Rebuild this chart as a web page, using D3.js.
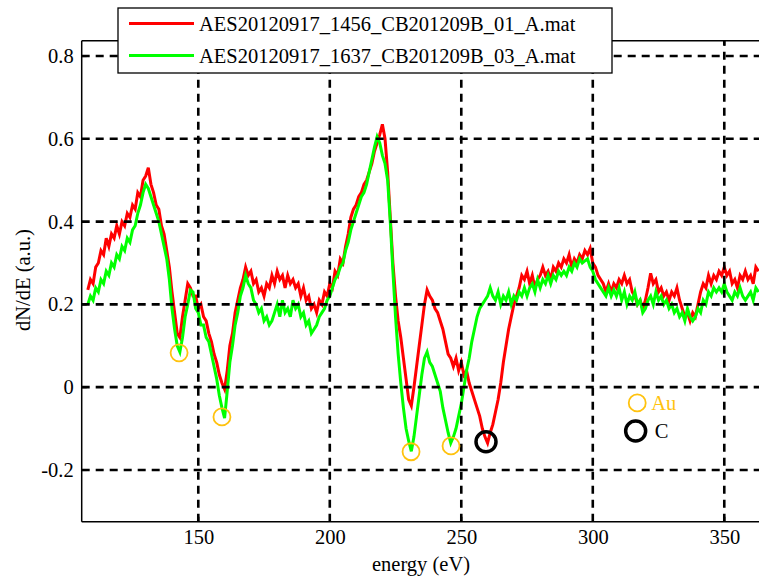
<!DOCTYPE html>
<html>
<head>
<meta charset="utf-8">
<script src="https://cdn.jsdelivr.net/npm/d3@7"></script>
<style>
  html, body { margin: 0; padding: 0; background: #fff; }
  svg { display: block; }
</style>
</head>
<body>
<svg id="chart" width="759" height="577"></svg>
<script>
// ---- data ----
const energyStart = 108;   // eV, first sample
const energyStep = 1;      // eV between samples

const seriesRed = [
0.235,0.26,0.25,0.29,0.30,0.33,0.32,0.36,0.34,0.37,
0.36,0.39,0.37,0.40,0.39,0.42,0.41,0.44,0.43,0.47,
0.46,0.50,0.51,0.53,0.49,0.47,0.44,0.43,0.39,0.37,
0.33,0.29,0.23,0.18,0.13,0.12,0.17,0.21,0.25,0.24,
0.22,0.22,0.19,0.20,0.17,0.16,0.13,0.11,0.08,0.06,
0.03,0.01,-0.005,0.04,0.10,0.13,0.18,0.21,0.24,0.26,
0.29,0.27,0.28,0.25,0.26,0.23,0.24,0.22,0.25,0.24,
0.27,0.25,0.28,0.26,0.27,0.24,0.27,0.25,0.26,0.24,
0.25,0.22,0.24,0.21,0.22,0.19,0.20,0.18,0.21,0.20,
0.23,0.22,0.25,0.24,0.28,0.27,0.31,0.30,0.34,0.37,
0.41,0.43,0.44,0.46,0.47,0.49,0.50,0.52,0.54,0.57,
0.59,0.61,0.635,0.60,0.52,0.41,0.30,0.22,0.16,0.12,
0.07,0.02,-0.03,-0.045,0.00,0.05,0.10,0.15,0.20,0.235,
0.22,0.21,0.19,0.18,0.16,0.14,0.11,0.08,0.07,0.05,
0.07,0.04,0.06,0.03,0.04,0.01,-0.01,-0.03,-0.05,-0.07,
-0.10,-0.12,-0.135,-0.11,-0.09,-0.06,-0.03,0.01,0.06,0.10,
0.14,0.17,0.20,0.22,0.24,0.27,0.26,0.28,0.25,0.27,
0.24,0.26,0.27,0.29,0.27,0.28,0.26,0.29,0.28,0.30,
0.29,0.31,0.30,0.32,0.29,0.31,0.30,0.32,0.31,0.33,
0.32,0.335,0.30,0.29,0.27,0.26,0.25,0.23,0.25,0.23,
0.25,0.24,0.26,0.25,0.27,0.25,0.26,0.23,0.22,0.20,
0.21,0.19,0.21,0.24,0.275,0.25,0.26,0.23,0.24,0.22,
0.23,0.21,0.23,0.22,0.24,0.21,0.19,0.17,0.18,0.16,
0.18,0.17,0.20,0.23,0.25,0.24,0.27,0.25,0.27,0.26,
0.28,0.27,0.29,0.27,0.28,0.25,0.26,0.24,0.27,0.26,
0.28,0.26,0.27,0.25,0.29,0.28];

const seriesGreen = [
0.20,0.22,0.21,0.24,0.23,0.26,0.25,0.28,0.27,0.30,
0.29,0.32,0.31,0.34,0.33,0.36,0.35,0.38,0.39,0.42,
0.44,0.47,0.49,0.48,0.46,0.44,0.42,0.40,0.37,0.34,
0.31,0.26,0.19,0.14,0.10,0.085,0.12,0.17,0.20,0.235,
0.23,0.19,0.18,0.15,0.15,0.12,0.11,0.08,0.05,0.02,
-0.02,-0.05,-0.075,-0.01,0.06,0.10,0.15,0.18,0.22,0.24,
0.27,0.25,0.24,0.21,0.20,0.18,0.19,0.16,0.17,0.15,
0.16,0.18,0.20,0.17,0.21,0.18,0.19,0.17,0.21,0.19,
0.20,0.17,0.18,0.15,0.16,0.13,0.14,0.15,0.17,0.18,
0.19,0.21,0.22,0.24,0.26,0.27,0.29,0.30,0.33,0.35,
0.38,0.40,0.42,0.44,0.46,0.47,0.49,0.52,0.55,0.58,
0.605,0.59,0.56,0.54,0.50,0.40,0.28,0.17,0.08,0.01,
-0.05,-0.10,-0.13,-0.155,-0.12,-0.07,-0.02,0.03,0.07,0.085,
0.06,0.05,0.03,0.01,-0.01,-0.05,-0.08,-0.11,-0.135,-0.12,
-0.10,-0.07,-0.04,0.00,0.04,0.07,0.11,0.14,0.17,0.19,
0.20,0.21,0.22,0.24,0.22,0.21,0.23,0.20,0.22,0.21,
0.23,0.20,0.22,0.21,0.23,0.22,0.24,0.22,0.24,0.25,
0.23,0.26,0.24,0.26,0.25,0.27,0.25,0.27,0.26,0.28,
0.27,0.28,0.27,0.29,0.28,0.30,0.29,0.31,0.30,0.305,
0.31,0.29,0.28,0.26,0.25,0.24,0.23,0.22,0.24,0.22,
0.235,0.22,0.24,0.21,0.23,0.20,0.22,0.21,0.23,0.20,
0.21,0.18,0.19,0.21,0.22,0.20,0.23,0.21,0.22,0.20,
0.21,0.19,0.20,0.18,0.19,0.17,0.18,0.16,0.19,0.17,
0.16,0.17,0.19,0.18,0.21,0.20,0.23,0.22,0.24,0.23,
0.24,0.23,0.25,0.23,0.22,0.21,0.23,0.22,0.24,0.22,
0.21,0.22,0.23,0.21,0.24,0.23];

const energy = seriesRed.map((_, i) => energyStart + i * energyStep);

const legendLabels = ["AES20120917_1456_CB201209B_01_A.mat", "AES20120917_1637_CB201209B_03_A.mat"];
const xTicks = [150, 200, 250, 300, 350];
const yTicks = [-0.2, 0, 0.2, 0.4, 0.6, 0.8];
// annotation circles (energy, dN/dE)
const auPeaks = [[142.7, 0.083], [159.0, -0.072], [230.9, -0.156], [246.1, -0.142]];
const cPeaks = [[259.4, -0.132]];
const keyAu = [316.9, -0.038];
const keyC = [316.3, -0.106];

// ---- layout ----
const FONT = "Liberation Serif";
const FS = "20.5px";
const svg = d3.select("#chart").style("font-family", FONT);
const L = 81.7, R = 759, T = 40.7, B = 521.7;
const x = d3.scaleLinear().domain([105.67, 363.2]).range([L, R]);
const y = d3.scaleLinear().domain([-0.325, 0.837]).range([B, T]);

const RED = "#ff0000", GREEN = "#00ff00", GOLD = "#ffc20e";

svg.append("clipPath").attr("id", "clip").append("rect")
  .attr("x", L).attr("y", T).attr("width", R - L).attr("height", B - T);

// series
const line = d3.line().x((d, i) => x(energy[i])).y(d => y(d));
const plot = svg.append("g").attr("clip-path", "url(#clip)");
plot.append("path").datum(seriesRed).attr("d", line)
  .attr("fill", "none").attr("stroke", RED).attr("stroke-width", 3);
plot.append("path").datum(seriesGreen).attr("d", line)
  .attr("fill", "none").attr("stroke", GREEN).attr("stroke-width", 3);

// grid
const grid = svg.append("g");
grid.selectAll("line.gx").data(xTicks).join("line")
  .attr("x1", d => x(d)).attr("x2", d => x(d)).attr("y1", B).attr("y2", T)
  .attr("stroke", "#000").attr("stroke-width", 2.6).attr("stroke-dasharray", "8,6");
grid.selectAll("line.gy").data(yTicks).join("line")
  .attr("x1", L).attr("x2", R).attr("y1", d => y(d)).attr("y2", d => y(d))
  .attr("stroke", "#000").attr("stroke-width", 2.6).attr("stroke-dasharray", "8,6");

// axes
const fmt = d => String(+d.toFixed(1));
const xAxis = svg.append("g").attr("transform", `translate(0,${B})`)
  .call(d3.axisBottom(x).tickValues(xTicks).tickSize(-5).tickPadding(8).tickFormat(d3.format("d")));
const xAxisTop = svg.append("g").attr("transform", `translate(0,${T})`)
  .call(d3.axisTop(x).tickValues(xTicks).tickSize(-5).tickFormat(""));
const yAxis = svg.append("g").attr("transform", `translate(${L},0)`)
  .call(d3.axisLeft(y).tickValues(yTicks).tickSize(-5).tickPadding(8).tickFormat(fmt));
[xAxis, xAxisTop, yAxis].forEach(g => {
  g.attr("font-family", FONT).attr("font-size", 20.5);
  g.select(".domain").attr("stroke", "#000").attr("stroke-width", 1.5);
  g.selectAll(".tick line").attr("stroke", "#000").attr("stroke-width", 1.2);
  g.selectAll(".tick text").attr("fill", "#000").style("font-family", FONT).style("font-size", FS);
});
xAxis.selectAll(".domain").attr("d", `M${L},0H${R}`);
xAxisTop.selectAll(".domain").attr("d", `M${L},0H${R}`);
yAxis.selectAll(".domain").attr("d", `M0,${B}V${T}`);

// axis titles
svg.append("text").attr("x", 421).attr("y", 571).attr("text-anchor", "middle")
  .style("font-family", FONT).style("font-size", FS).text("energy (eV)");
svg.append("text").attr("transform", `translate(30,280) rotate(-90)`).attr("text-anchor", "middle")
  .style("font-family", FONT).style("font-size", FS).text("dN/dE (a.u.)");

// annotation circles
svg.selectAll("circle.au").data(auPeaks).join("circle")
  .attr("cx", d => x(d[0])).attr("cy", d => y(d[1])).attr("r", 8.5)
  .attr("fill", "none").attr("stroke", GOLD).attr("stroke-width", 1.8);
svg.selectAll("circle.c").data(cPeaks).join("circle")
  .attr("cx", d => x(d[0])).attr("cy", d => y(d[1])).attr("r", 10)
  .attr("fill", "none").attr("stroke", "#000").attr("stroke-width", 3.5);

// key for markers
svg.append("circle").attr("cx", x(keyAu[0])).attr("cy", y(keyAu[1])).attr("r", 8.5)
  .attr("fill", "none").attr("stroke", GOLD).attr("stroke-width", 1.8);
svg.append("text").attr("x", x(keyAu[0]) + 14).attr("y", y(keyAu[1]) + 7)
  .attr("fill", GOLD).style("font-family", FONT).style("font-size", FS).text("Au");
svg.append("circle").attr("cx", x(keyC[0])).attr("cy", y(keyC[1])).attr("r", 10)
  .attr("fill", "none").attr("stroke", "#000").attr("stroke-width", 3.5);
svg.append("text").attr("x", x(keyC[0]) + 19).attr("y", y(keyC[1]) + 7)
  .attr("fill", "#000").style("font-family", FONT).style("font-size", FS).text("C");

// legend
const leg = svg.append("g");
leg.append("rect").attr("x", 118).attr("y", 8).attr("width", 494).attr("height", 65)
  .attr("fill", "#fff").attr("stroke", "#000").attr("stroke-width", 1.3);
const legColors = [RED, GREEN];
legendLabels.forEach((lab, i) => {
  const yy = 23.5 + i * 32;
  leg.append("line").attr("x1", 129).attr("x2", 194).attr("y1", yy).attr("y2", yy)
    .attr("stroke", legColors[i]).attr("stroke-width", 3);
  leg.append("text").attr("x", 199).attr("y", yy + 7)
    .style("font-family", FONT).style("font-size", FS).text(lab);
});
</script>
</body>
</html>
